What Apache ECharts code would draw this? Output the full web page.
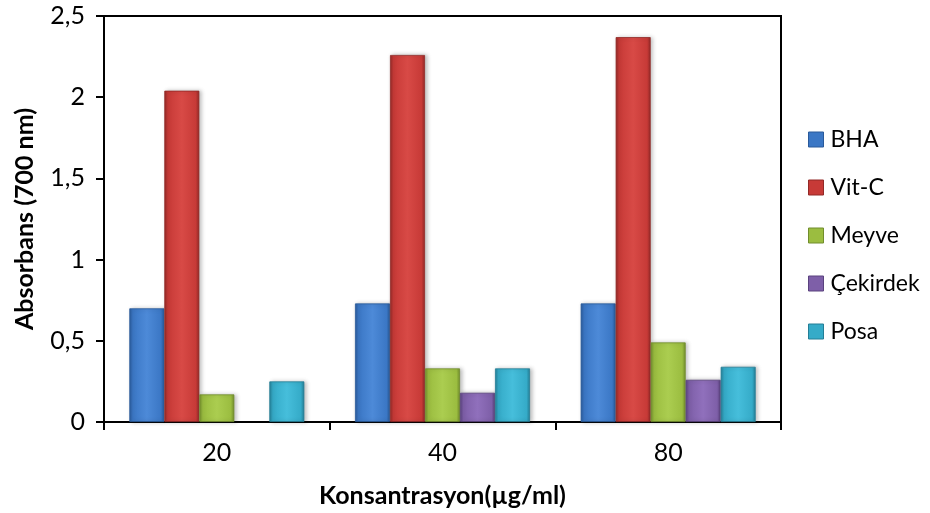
<!DOCTYPE html>
<html>
<head>
<meta charset="utf-8">
<script src="https://cdn.jsdelivr.net/npm/echarts@6/dist/echarts.min.js"></script>
<style>
  html, body { margin: 0; padding: 0; background: #fff; }
  #chart { width: 930px; height: 513px; }
</style>
</head>
<body>
<div id="chart"></div>
<script>
// Concentrations (µg/ml)
const categories = ['20', '40', '80'];

// Absorbance at 700 nm per sample (null = not measured)
const bha       = [0.70, 0.73, 0.73];
const vitC      = [2.04, 2.26, 2.37];
const meyve     = [0.17, 0.33, 0.49];
const cekirdek  = [null, 0.18, 0.26];
const posa      = [0.25, 0.33, 0.34];

const yTicks = { min: 0, max: 2.5, step: 0.5 };

const seriesDefs = [
  { name: 'BHA',      data: bha,      base: '#3b77c5', edge: '#2a5a9a', light: '#4d8ad8' },
  { name: 'Vit-C',    data: vitC,     base: '#c73a37', edge: '#922927', light: '#d84a46' },
  { name: 'Meyve',    data: meyve,    base: '#9bbd40', edge: '#718d2c', light: '#abcd50' },
  { name: 'Çekirdek', data: cekirdek, base: '#7e5fa8', edge: '#5a427e', light: '#9070bc' },
  { name: 'Posa',     data: posa,     base: '#35abc8', edge: '#247e96', light: '#46bedb' }
];

function barFill(d) {
  return new echarts.graphic.LinearGradient(0, 0, 1, 0, [
    { offset: 0,    color: d.edge },
    { offset: 0.1,  color: d.base },
    { offset: 0.5,  color: d.light },
    { offset: 0.9,  color: d.base },
    { offset: 1,    color: d.edge }
  ]);
}

const chart = echarts.init(document.getElementById('chart'), null, { renderer: 'canvas' });

const fontFamily = 'Lato, "Open Sans", sans-serif';

chart.setOption({
  animation: false,
  backgroundColor: '#ffffff',
  textStyle: { fontFamily: fontFamily, color: '#000' },
  grid: {
    left: 104, right: 149, top: 16, bottom: 91,
    show: true, borderColor: '#000', borderWidth: 2, backgroundColor: 'transparent'
  },
  legend: {
    orient: 'vertical',
    left: 803,
    top: 123,
    itemWidth: 15,
    itemHeight: 15,
    itemGap: 25,
    icon: 'rect',
    textStyle: { fontSize: 23, color: '#000', fontFamily: fontFamily, padding: [0, 0, 0, 2] },
    data: seriesDefs.map(d => ({ name: d.name, itemStyle: { color: d.base, borderColor: d.edge, borderWidth: 1 } }))
  },
  xAxis: {
    type: 'category',
    data: categories,
    boundaryGap: true,
    name: 'Konsantrasyon(µg/ml)',
    nameLocation: 'middle',
    nameGap: 61,
    nameTextStyle: { fontSize: 25, fontWeight: 'bold', color: '#000', fontFamily: fontFamily },
    axisLine: { show: true, lineStyle: { color: '#000', width: 2 } },
    axisTick: { show: true, length: 8, interval: 0, lineStyle: { color: '#000', width: 2 } },
    axisLabel: { fontSize: 25, color: '#000', margin: 18 },
    splitLine: { show: false }
  },
  yAxis: {
    type: 'value',
    min: yTicks.min,
    max: yTicks.max,
    interval: yTicks.step,
    name: 'Absorbans (700 nm)',
    nameLocation: 'middle',
    nameGap: 67,
    nameRotate: 90,
    nameTextStyle: { fontSize: 25, fontWeight: 'bold', color: '#000', fontFamily: fontFamily },
    axisLine: { show: true, lineStyle: { color: '#000', width: 2 } },
    axisTick: { show: true, length: 8, lineStyle: { color: '#000', width: 2 } },
    axisLabel: {
      fontSize: 25, color: '#000', margin: 19,
      formatter: v => String(v).replace('.', ',')
    },
    splitLine: { show: false }
  },
  series: seriesDefs.map(d => ({
    name: d.name,
    type: 'bar',
    data: d.data,
    barWidth: 35,
    barGap: '0%',
    itemStyle: {
      color: barFill(d),
      borderColor: d.edge,
      borderWidth: 0.8,
      shadowColor: 'rgba(0,0,0,0.25)',
      shadowBlur: 4,
      shadowOffsetX: 2,
      shadowOffsetY: 0
    }
  }))
});
</script>
</body>
</html>
